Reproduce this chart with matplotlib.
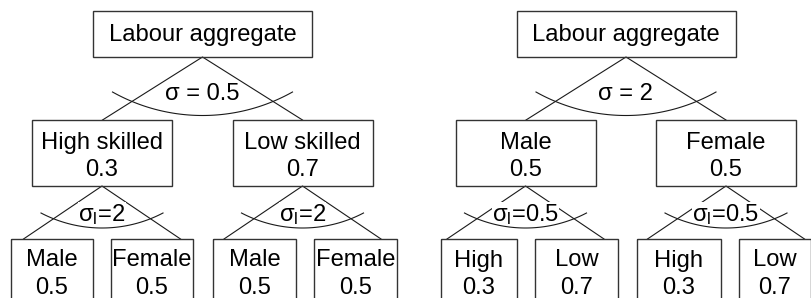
import matplotlib.pyplot as plt
from matplotlib.patches import Rectangle
import numpy as np

plt.rcParams['font.family'] = ['Liberation Sans', 'DejaVu Sans']

# tree contents
root_label = "Labour aggregate"
left_sigma = "σ = 0.5"
left_mid = ["High skilled", "Low skilled"]
left_mid_share = ["0.3", "0.7"]
left_sub_sigma = "2"
left_leaf = ["Male", "Female"]
left_leaf_share = ["0.5", "0.5"]

right_sigma = "σ = 2"
right_mid = ["Male", "Female"]
right_mid_share = ["0.5", "0.5"]
right_sub_sigma = "0.5"
right_leaf = ["High", "Low"]
right_leaf_share = ["0.3", "0.7"]

W, H = 811, 298
fig = plt.figure(figsize=(W / 100, H / 100), dpi=100)
ax = fig.add_axes([0, 0, 1, 1])
ax.set_xlim(0, W)
ax.set_ylim(H, 0)
ax.axis('off')

FS = 17.1
LC = '#1a1a1a'


def box(x0, y0, x1, y1):
    ax.add_patch(Rectangle((x0, y0), x1 - x0, y1 - y0, fill=False,
                           edgecolor='#333333', linewidth=1.0, zorder=2))


def fan(cx, y0, half, y1, end_y, arc_half, sag):
    ax.plot([cx - half, cx, cx + half], [y1, y0, y1], color=LC, lw=0.8, zorder=1)
    # circular arc through the two ends and the bottom point
    r = (arc_half ** 2 + sag ** 2) / (2 * sag)
    cy = end_y + sag - r
    a = np.arcsin(arc_half / r)
    t = np.linspace(-a, a, 100)
    ax.plot(cx + r * np.sin(t), cy + r * np.cos(t), color=LC, lw=0.8, zorder=4)


def sigma_l(x, y, val):
    ax.text(x, y, r"$\mathregular{σ_l}$=" + val, ha='center', va='baseline',
            fontsize=FS, zorder=3,
            bbox=dict(facecolor='white', edgecolor='none', pad=0))


def tree(dx, sigma, mid, mid_share, sub_sigma, leaf, leaf_share, leaf_x):
    # root
    rc = 202.5 + dx
    box(rc - 109.5, 11, rc + 109.5, 57)
    ax.text(rc, 41, root_label, ha='center', va='baseline', fontsize=FS)
    fan(rc, 57, 100, 120, 92, 90, 23.5)
    ax.text(rc, 100.5, sigma, ha='center', va='baseline', fontsize=FS, zorder=3)
    mid_c = [102 + dx, 302.5 + dx]
    for k, mc in enumerate(mid_c):
        box(mc - 70, 120, mc + 70, 186)
        ax.text(mc, 149, mid[k], ha='center', va='baseline', fontsize=FS)
        ax.text(mc, 176.5, mid_share[k], ha='center', va='baseline', fontsize=FS)
        fan(mc, 186, 78.5, 239, 213, 61, 15)
        sigma_l(mc, 221, sub_sigma)
        for j in range(2):
            x0, x1 = leaf_x[2 * k + j]
            box(x0, 239, x1, 320)
            xc = (x0 + x1) / 2
            ax.text(xc, 266.5, leaf[j], ha='center', va='baseline', fontsize=FS)
            ax.text(xc, 294, leaf_share[j], ha='center', va='baseline', fontsize=FS)


tree(0, left_sigma, left_mid, left_mid_share, left_sub_sigma,
     left_leaf, left_leaf_share, [(11, 93), (111, 193), (213, 296), (314, 397)])
tree(423.5, right_sigma, right_mid, right_mid_share, right_sub_sigma,
     right_leaf, right_leaf_share, [(441, 517), (535, 618), (637, 721), (739, 811)])

fig.savefig("out.png", dpi=100)
